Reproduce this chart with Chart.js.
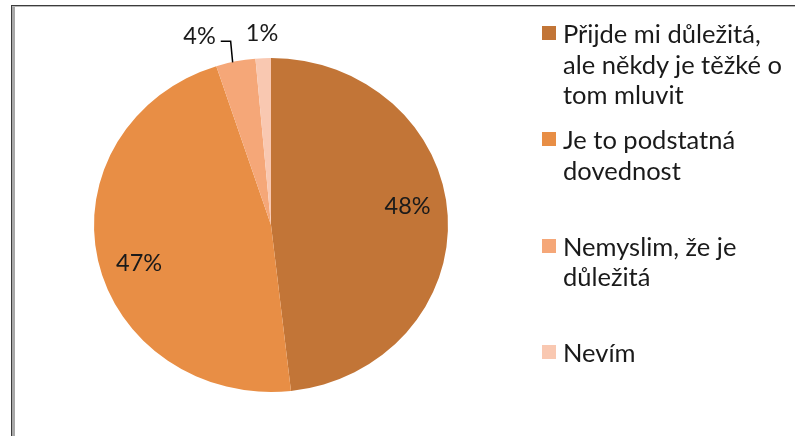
<!DOCTYPE html>
<html>
<head>
<meta charset="utf-8">
<script src="https://cdn.jsdelivr.net/npm/chart.js@4.4.1/dist/chart.umd.min.js"></script>
<style>
  html, body { margin: 0; padding: 0; background: #fff; }
  #wrap { position: relative; width: 795px; height: 436px; overflow: hidden; }
  #c { position: absolute; left: 0; top: 0; }
  .bl { position: absolute; left: 11px; top: 5px; width: 1px; height: 431px; background: #3c3c3c; }
  .bl2 { position: absolute; left: 12px; top: 6px; width: 3px; height: 430px; background: #a8a8a8; }
  .bt { position: absolute; left: 11px; top: 5px; width: 784px; height: 1px; background: #3c3c3c; }
  .bt2 { position: absolute; left: 12px; top: 6px; width: 783px; height: 1px; background: #b8b8b8; }
  #legend { position: absolute; left: 0; top: 0; font-family: Lato, "Open Sans", sans-serif; font-size: 25.5px; color: #1a1a1a; }
  .item { position: absolute; left: 542px; }
  .sw { position: absolute; left: 0; top: 8px; width: 14px; height: 14px; }
  .tx { position: absolute; left: 21px; top: 0; line-height: 30.5px; white-space: nowrap; }
</style>
</head>
<body>
<div id="wrap">
  <canvas id="c" width="795" height="436"></canvas>
  <div class="bl"></div><div class="bl2"></div><div class="bt"></div><div class="bt2"></div>
  <div id="legend"></div>
</div>
<script>
const categories = [
  ["Přijde mi důležitá,", "ale někdy je těžké o", "tom mluvit"],
  ["Je to podstatná", "dovednost"],
  ["Nemyslim, že je", "důležitá"],
  ["Nevím"]
];
// shares (labels show them rounded)
const shareValues = [48.2, 46.8, 3.6, 1.4];
const sliceColors = ["#C27537", "#E88E45", "#F5A778", "#F9C8B1"];

const STRETCH_X = 177 / 167; // reference pie is slightly wider than tall

// Legend (HTML, wrapped lines kept as real text)
const legendEl = document.getElementById('legend');
categories.forEach((lines, i) => {
  const it = document.createElement('div');
  it.className = 'item';
  it.style.top = (18 + i * 106.3) + 'px';
  const sw = document.createElement('div');
  sw.className = 'sw';
  sw.style.background = sliceColors[i];
  const tx = document.createElement('div');
  tx.className = 'tx';
  tx.innerHTML = lines.map(l => l.replace(/&/g, '&amp;').replace(/</g, '&lt;')).join('<br>');
  it.appendChild(sw); it.appendChild(tx);
  legendEl.appendChild(it);
});

const piePlugin = {
  id: 'pieStretchAndLabels',
  beforeDatasetsDraw(chart) {
    const meta = chart.getDatasetMeta(0);
    const a = meta.data[0];
    const ctx = chart.ctx;
    ctx.save();
    ctx.translate(a.x, a.y);
    ctx.scale(STRETCH_X, 1);
    ctx.translate(-a.x, -a.y);
  },
  afterDatasetsDraw(chart) {
    const ctx = chart.ctx;
    ctx.restore();
    const meta = chart.getDatasetMeta(0);
    const ds = chart.data.datasets[0];
    ctx.save();
    ctx.font = '23.5px Lato, "Open Sans", sans-serif';
    ctx.fillStyle = '#1a1a1a';
    ctx.textBaseline = 'middle';
    const small = [];
    meta.data.forEach((arc, i) => {
      const p = arc.getProps(['x', 'y', 'startAngle', 'endAngle', 'outerRadius'], true);
      const mid = (p.startAngle + p.endAngle) / 2;
      const txt = Math.round(ds.data[i]) + '%';
      const ex = p.x + Math.cos(mid) * p.outerRadius * STRETCH_X;
      const ey = p.y + Math.sin(mid) * p.outerRadius;
      if (ds.data[i] >= 10) {
        const ang = mid - 5 * Math.PI / 180;
        const r = p.outerRadius * 0.78;
        ctx.textAlign = 'center';
        ctx.fillText(txt, p.x + Math.cos(ang) * r * STRETCH_X, p.y + Math.sin(ang) * r);
      } else {
        small.push({ txt, ex, ey, mid });
      }
    });
    // outside labels for the small slices (last slice first), pushed leftwards
    small.sort((a, b) => b.mid - a.mid);
    let prevLeft = null;
    ctx.textAlign = 'left';
    small.forEach(s => {
      const w = ctx.measureText(s.txt).width;
      const ly = s.ey - 25;
      let lx;
      let leader = false;
      if (prevLeft === null) {
        lx = s.ex + 15 - w;
      } else {
        lx = prevLeft - 30 - w;
        leader = true;
      }
      ctx.fillText(s.txt, lx, ly);
      if (leader) {
        ctx.beginPath();
        ctx.strokeStyle = '#000';
        ctx.lineWidth = 1.5;
        ctx.moveTo(lx + w + 5, ly + 5);
        ctx.lineTo(s.ex - 5, ly + 5);
        ctx.lineTo(s.ex - 3, s.ey + 1);
        ctx.stroke();
      }
      prevLeft = lx;
    });
    ctx.restore();
  }
};

new Chart(document.getElementById('c'), {
  type: 'pie',
  data: {
    labels: categories,
    datasets: [{
      data: shareValues,
      backgroundColor: sliceColors,
      borderWidth: 0
    }]
  },
  options: {
    responsive: false,
    animation: false,
    rotation: 0,
    layout: { padding: { left: 104, right: 357, top: 58, bottom: 44 } },
    plugins: { legend: { display: false }, tooltip: { enabled: false } }
  },
  plugins: [piePlugin]
});
</script>
</body>
</html>
